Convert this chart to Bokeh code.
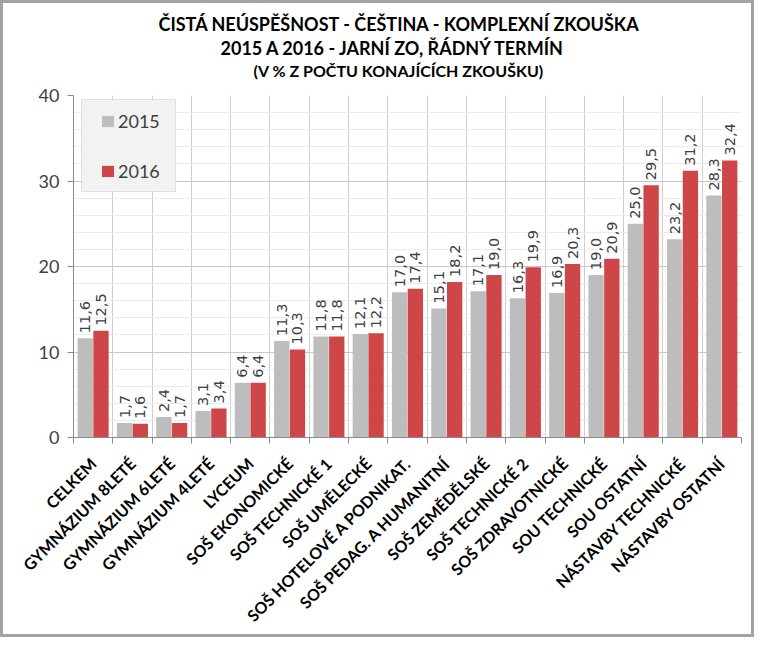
from math import pi
from bokeh.plotting import figure
from bokeh.models import (ColumnDataSource, FixedTicker, Title, Legend, LegendItem,
                          BoxAnnotation, Range1d)
from bokeh.core.properties import value
from bokeh.embed import file_html
from bokeh.resources import INLINE

categories = ["CELKEM", "GYMNÁZIUM 8LETÉ", "GYMNÁZIUM 6LETÉ", "GYMNÁZIUM 4LETÉ", "LYCEUM",
              "SOŠ EKONOMICKÉ", "SOŠ TECHNICKÉ 1", "SOŠ UMĚLECKÉ", "SOŠ HOTELOVÉ A PODNIKAT.",
              "SOŠ PEDAG. A HUMANITNÍ", "SOŠ ZEMĚDĚLSKÉ", "SOŠ TECHNICKÉ 2", "SOŠ ZDRAVOTNICKÉ",
              "SOU TECHNICKÉ", "SOU OSTATNÍ", "NÁSTAVBY TECHNICKÉ", "NÁSTAVBY OSTATNÍ"]
values_2015 = [11.6, 1.7, 2.4, 3.1, 6.4, 11.3, 11.8, 12.1, 17.0, 15.1, 17.1, 16.3, 16.9, 19.0, 25.0, 23.2, 28.3]
values_2016 = [12.5, 1.6, 1.7, 3.4, 6.4, 10.3, 11.8, 12.2, 17.4, 18.2, 19.0, 19.9, 20.3, 20.9, 29.5, 31.2, 32.4]
series_names = ["2015", "2016"]
y_ticks = [0, 10, 20, 30, 40]
title_lines = ["ČISTÁ NEÚSPĚŠNOST - ČEŠTINA - KOMPLEXNÍ ZKOUŠKA",
               "2015 A 2016 - JARNÍ ZO, ŘÁDNÝ TERMÍN",
               "(V % Z POČTU KONAJÍCÍCH ZKOUŠKU)"]

GRAY = "#bdbdbd"
RED = "#cf4648"
TXT = "#404040"

n = len(categories)
centers = [i + 0.5 for i in range(n)]
fmt = lambda v: f"{v:.1f}".replace(".", ",")

src15 = ColumnDataSource(dict(x=[c - 0.2 for c in centers], top=values_2015,
                              lab=[fmt(v) for v in values_2015]))
src16 = ColumnDataSource(dict(x=[c + 0.2 for c in centers], top=values_2016,
                              lab=[fmt(v) for v in values_2016]))

FW, FH = 668, 342
p = figure(frame_width=FW, frame_height=FH, output_backend="svg", toolbar_location=None,
           x_range=Range1d(0, n), y_range=Range1d(0, 40),
           min_border_left=70, min_border_right=10, min_border_top=92, min_border_bottom=190)
p.styles = {"border": "3px solid #a3a3a3", "box-sizing": "content-box"}
p.outline_line_color = None
p.background_fill_color = "white"
p.border_fill_color = "white"

r15 = p.vbar(x="x", top="top", width=0.39, bottom=0, source=src15, fill_color=GRAY, line_color=None)
r16 = p.vbar(x="x", top="top", width=0.39, bottom=0, source=src16, fill_color=RED, line_color=None)

for src in (src15, src16):
    p.text(x="x", y="top", text="lab", source=src, angle=pi / 2, text_align="left",
           text_baseline="middle", y_offset=-5, text_font=value("DejaVu Sans"),
           text_font_size="14.5px", text_color=TXT)

# axes
xa = p.xaxis[0]
xa.ticker = FixedTicker(ticks=centers, minor_ticks=list(range(n + 1)))
xa.major_label_overrides = {c: lab for c, lab in zip(centers, categories)}
xa.major_label_orientation = pi / 4
xa.major_tick_line_color = None
xa.major_tick_out = 0
xa.major_tick_in = 0
xa.minor_tick_out = 6
xa.minor_tick_in = 0
xa.minor_tick_line_color = "#8a8a8a"
xa.axis_line_color = "#8a8a8a"
xa.major_label_standoff = 17
xa.major_label_text_font = "Lato"
xa.major_label_text_font_style = "bold"
xa.major_label_text_font_size = "16px"
xa.major_label_text_color = "black"

ya = p.yaxis[0]
ya.ticker = FixedTicker(ticks=y_ticks, minor_ticks=list(range(0, 41, 2)))
ya.minor_tick_line_color = None
ya.major_tick_out = 6
ya.major_tick_in = 0
ya.major_tick_line_color = "#8a8a8a"
ya.axis_line_color = "#8a8a8a"
ya.major_label_standoff = 8
ya.major_label_text_font = "Lato"
ya.major_label_text_font_size = "18px"
ya.major_label_text_color = TXT

p.xgrid.grid_line_color = None
p.xgrid.minor_grid_line_color = "#cfcfcf"
p.ygrid.grid_line_color = "#c8c8c8"
p.ygrid.minor_grid_line_color = "#ececec"

# legend box
box = BoxAnnotation(left=8, right=102, top=FH - 4, bottom=FH - 96,
                    left_units="screen", right_units="screen", top_units="screen", bottom_units="screen",
                    fill_color="#f2f2f2", fill_alpha=1, line_color="#a6a6a6", line_width=1)
p.add_layout(box)

legend = Legend(items=[LegendItem(label=series_names[0], renderers=[r15]),
                       LegendItem(label=series_names[1], renderers=[r16])],
                location=(27, FH - 87), padding=0, spacing=28, glyph_width=15, glyph_height=14,
                label_height=20, label_standoff=3, background_fill_alpha=0, border_line_color=None,
                label_text_font="Lato", label_text_font_size="18px", label_text_color=TXT, margin=0)
p.add_layout(legend)

# title: spacer first, then lines bottom-up (closest to the frame first)
p.add_layout(Title(text=" ", text_font_size="1px", standoff=12), "above")
for t, fs, so, off in zip(title_lines[::-1], ["16px", "18px", "18px"], [2, -2, 2], [180, 147, 85]):
    p.add_layout(Title(text=t, align="left", offset=off, standoff=so, text_font="Lato",
                       text_font_style="bold", text_font_size=fs, text_color="black"), "above")

open("out.html", "w").write(file_html(p, INLINE))
